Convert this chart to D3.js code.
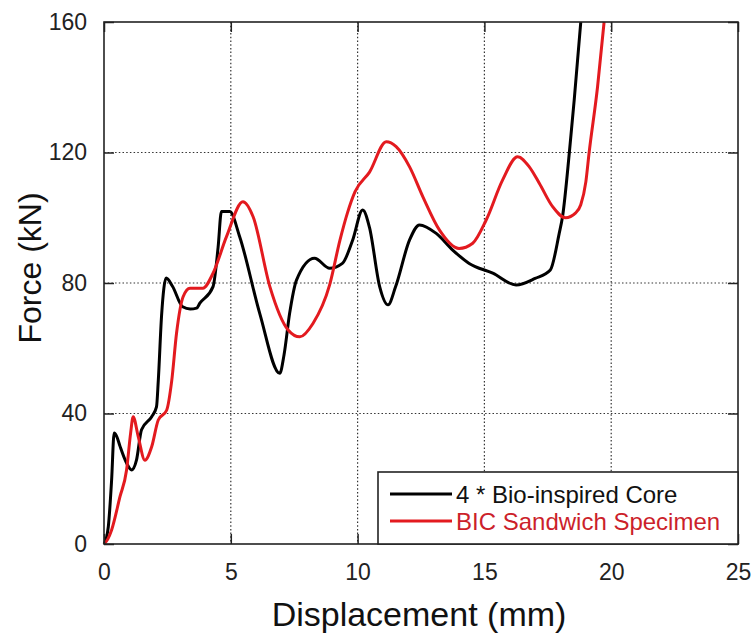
<!DOCTYPE html>
<html>
<head>
<meta charset="utf-8">
<script src="https://cdn.jsdelivr.net/npm/d3@7/dist/d3.min.js"></script>
<style>
  html, body { margin: 0; padding: 0; background: #fff; }
  svg { display: block; font-family: "Liberation Sans", Arial, sans-serif; }
</style>
</head>
<body>
<svg id="chart" width="754" height="641"></svg>
<script>
// Force–displacement curves
const coreDisp = [0, 0.1, 0.17, 0.3, 0.4, 0.5, 0.63, 0.89, 1.09, 1.28, 1.48, 1.88, 2.07, 2.14, 2.27, 2.45, 2.7, 3.1, 3.4, 3.65, 3.78, 4.3, 4.5, 4.63, 4.96, 5.35, 6.14, 6.93, 7.1, 7.32, 7.59, 8.3, 8.9, 9.4, 9.8, 10.2, 10.47, 10.87, 11.2, 11.5, 12.05, 12.44, 13.1, 13.75, 14.4, 15.33, 16.25, 17.0, 17.6, 17.95, 18.08, 18.35, 18.54, 18.8];
const coreForce = [0, 2, 5.3, 19.6, 34, 33, 30, 24.8, 22.7, 25.7, 35, 39, 42, 50, 70, 81.5, 79, 72.7, 72, 72.3, 73.8, 78.9, 91, 101.9, 101.9, 94.2, 70.7, 52.3, 58, 70.7, 80.9, 87.6, 84.5, 86, 93, 102.4, 97, 78.9, 73.3, 78.9, 93.2, 97.8, 95.2, 90.1, 86, 83, 79.4, 81.4, 84, 95.2, 100.3, 120, 136, 160];

const bicDisp = [0, 0.15, 0.3, 0.63, 0.89, 1.05, 1.15, 1.35, 1.61, 1.88, 2.14, 2.47, 2.67, 2.86, 3.12, 3.39, 3.9, 4.3, 4.83, 5.48, 5.88, 6.54, 7.26, 7.72, 8.24, 8.9, 9.3, 9.6, 9.9, 10.47, 11.13, 11.52, 12.05, 12.57, 13.23, 14.0, 14.54, 15.07, 15.72, 16.31, 16.77, 17.17, 17.69, 18.2, 18.6, 18.8, 19.0, 19.13, 19.46, 19.72];
const bicForce = [0, 1.5, 4.3, 14.5, 22.7, 34, 39, 32.9, 25.7, 29.8, 38, 41, 50, 64.6, 75.8, 78.4, 78.4, 83, 94.2, 104.9, 100.3, 78.9, 65.6, 63.5, 67.6, 79.5, 93, 101.5, 108, 114, 123.3, 121.8, 115.6, 106.5, 96.2, 90.6, 92.2, 99.3, 111.6, 118.7, 115.6, 110.5, 103.4, 100, 101.5, 104, 111, 120, 140, 160];

const seriesNames = ["4 * Bio-inspired Core", "BIC Sandwich Specimen"];
const xTicks = [0, 5, 10, 15, 20, 25];
const yTicks = [0, 40, 80, 120, 160];
const xTitle = "Displacement (mm)";
const yTitle = "Force (kN)";

const colors = ["#000000", "#e31a1f"];
const legendTextColors = ["#111111", "#cc1f2b"];

const svg = d3.select("#chart");
const plot = { left: 104, top: 22, right: 738, bottom: 544 };

const x = d3.scaleLinear().domain([0, 25]).range([plot.left, plot.right]);
const y = d3.scaleLinear().domain([0, 160]).range([plot.bottom, plot.top]);

// dotted grid at interior ticks
const grid = svg.append("g").attr("stroke", "#333").attr("stroke-width", 1.2)
  .attr("stroke-dasharray", "1.5,2.2");
xTicks.filter(v => v > 0 && v < 25).forEach(v => {
  grid.append("line").attr("x1", x(v)).attr("x2", x(v)).attr("y1", plot.top).attr("y2", plot.bottom);
});
yTicks.filter(v => v > 0 && v < 160).forEach(v => {
  grid.append("line").attr("x1", plot.left).attr("x2", plot.right).attr("y1", y(v)).attr("y2", y(v));
});

// curves
const line = d3.line().x(d => x(d[0])).y(d => y(d[1])).curve(d3.curveMonotoneX);
const coreData = d3.zip(coreDisp, coreForce);
const bicData = d3.zip(bicDisp, bicForce);

svg.append("path").datum(coreData).attr("d", line)
  .attr("fill", "none").attr("stroke", colors[0]).attr("stroke-width", 3).attr("stroke-linejoin", "round");
svg.append("path").datum(bicData).attr("d", line)
  .attr("fill", "none").attr("stroke", colors[1]).attr("stroke-width", 3).attr("stroke-linejoin", "round");

// axes with inward ticks on all four sides
function styleAxis(g) {
  g.select(".domain").remove();
  g.selectAll(".tick line").attr("stroke", "#222").attr("stroke-width", 1.5);
  g.selectAll(".tick text").attr("fill", "#222").attr("font-size", 23)
    .attr("font-family", "'Liberation Sans', Arial, sans-serif");
}
svg.append("g").attr("transform", `translate(0,${plot.bottom})`)
  .call(d3.axisBottom(x).tickValues(xTicks).tickSize(-10).tickPadding(20).tickFormat(d3.format("d")))
  .call(styleAxis);
svg.append("g").attr("transform", `translate(0,${plot.top})`)
  .call(d3.axisTop(x).tickValues(xTicks).tickSize(-10).tickFormat(""))
  .call(styleAxis);
svg.append("g").attr("transform", `translate(${plot.left},0)`)
  .call(d3.axisLeft(y).tickValues(yTicks).tickSize(-10).tickPadding(17).tickFormat(d3.format("d")))
  .call(styleAxis);
svg.append("g").attr("transform", `translate(${plot.right},0)`)
  .call(d3.axisRight(y).tickValues(yTicks).tickSize(-10).tickFormat(""))
  .call(styleAxis);

// frame
svg.append("rect").attr("x", plot.left).attr("y", plot.top)
  .attr("width", plot.right - plot.left).attr("height", plot.bottom - plot.top)
  .attr("fill", "none").attr("stroke", "#222").attr("stroke-width", 1.6);

// axis titles
svg.append("text").attr("x", 419).attr("y", 626)
  .attr("text-anchor", "middle").attr("font-size", 34).attr("fill", "#111").text(xTitle);
svg.append("text").attr("transform", "translate(41,268) rotate(-90)")
  .attr("text-anchor", "middle").attr("font-size", 32).attr("fill", "#111").text(yTitle);

// legend, anchored to the lower-right corner of the frame
const lg = svg.append("g");
lg.append("rect").attr("x", 378).attr("y", 472).attr("width", plot.right - 378).attr("height", plot.bottom - 472)
  .attr("fill", "#fff").attr("stroke", "#222").attr("stroke-width", 1.6);
seriesNames.forEach((name, i) => {
  const ly = 494 + i * 27;
  lg.append("line").attr("x1", 390).attr("x2", 452).attr("y1", ly).attr("y2", ly)
    .attr("stroke", colors[i]).attr("stroke-width", 3);
  lg.append("text").attr("x", 456).attr("y", ly + 9).attr("font-size", 24)
    .attr("fill", legendTextColors[i]).text(name);
});
</script>
</body>
</html>
